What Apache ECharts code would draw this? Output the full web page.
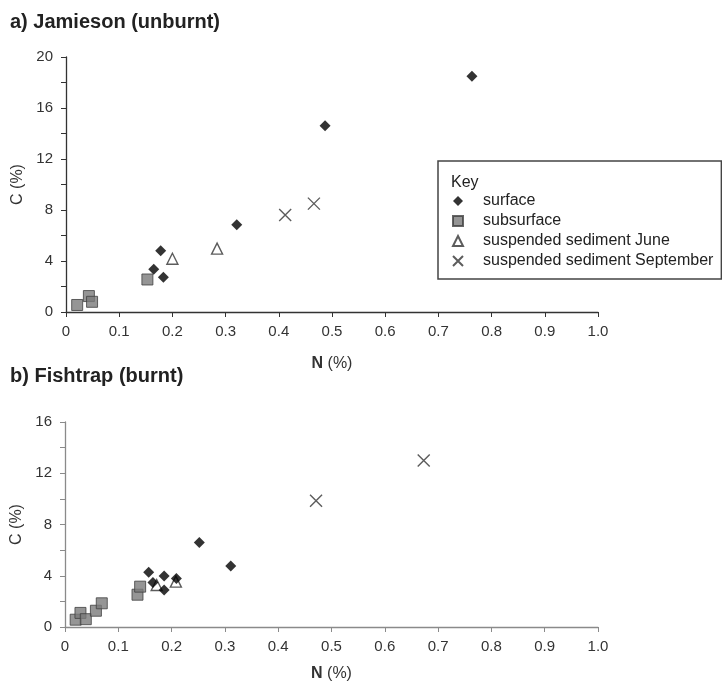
<!DOCTYPE html>
<html>
<head>
<meta charset="utf-8">
<script src="https://cdn.jsdelivr.net/npm/echarts@6/dist/echarts.min.js"></script>
<style>
  html, body { margin: 0; padding: 0; background: #fff; }
  #chart { width: 722px; height: 684px; }
</style>
</head>
<body>
<div id="chart"></div>
<script>
// a) Jamieson (unburnt)
const jamSurfaceN = [0.165, 0.178, 0.183, 0.321, 0.487, 0.763];
const jamSurfaceC = [3.35, 4.8, 2.72, 6.85, 14.6, 18.5];
const jamSubN = [0.021, 0.043, 0.049, 0.153];
const jamSubC = [0.55, 1.25, 0.8, 2.55];
const jamJuneN = [0.2, 0.284];
const jamJuneC = [4.18, 4.97];
const jamSepN = [0.412, 0.466];
const jamSepC = [7.6, 8.5];

// b) Fishtrap (burnt)
const fishSurfaceN = [0.157, 0.165, 0.186, 0.186, 0.209, 0.252, 0.311];
const fishSurfaceC = [4.27, 3.48, 3.99, 2.89, 3.78, 6.6, 4.77];
const fishSubN = [0.02, 0.029, 0.039, 0.058, 0.069, 0.136, 0.141];
const fishSubC = [0.57, 1.1, 0.61, 1.27, 1.85, 2.52, 3.15];
const fishJuneN = [0.172, 0.208];
const fishJuneC = [3.28, 3.54];
const fishSepN = [0.471, 0.673];
const fishSepC = [9.85, 13.0];

const names = ['surface', 'subsurface', 'suspended sediment June', 'suspended sediment September'];

const font = '"Liberation Sans", Arial, sans-serif';
const pairs = (xs, ys) => xs.map((x, i) => [x, ys[i]]);

const styles = {
  surface: {
    symbol: 'diamond',
    symbolSize: 11,
    itemStyle: { color: '#000' }
  },
  subsurface: {
    symbol: 'rect',
    symbolSize: 11,
    itemStyle: { color: '#7a7a7a', borderColor: '#404040', borderWidth: 1 }
  },
  june: {
    symbol: 'triangle',
    symbolSize: 11,
    itemStyle: { color: '#fff', borderColor: '#333', borderWidth: 1.4 }
  },
  sep: {
    symbol: 'path://M0,0L10,10M10,0L0,10',
    symbolSize: 12,
    itemStyle: { color: 'rgba(0,0,0,0)', borderColor: '#333', borderWidth: 1.4 }
  }
};

const xAxisBase = (grid, color, gap) => ({
  type: 'value',
  gridIndex: grid,
  min: 0,
  max: 1,
  interval: 0.1,
  name: '{b|N} (%)',
  nameLocation: 'middle',
  nameGap: gap,
  nameTextStyle: {
    fontFamily: font, fontSize: 16, color: '#333',
    rich: { b: { fontFamily: font, fontSize: 16, fontWeight: 'bold', color: '#333' } }
  },
  axisLine: { show: true, onZero: false, lineStyle: { color: color, width: 1.3 } },
  axisTick: { show: true, length: 5, lineStyle: { color: color } },
  axisLabel: {
    fontFamily: font, fontSize: 15, color: '#333', margin: 12,
    formatter: v => v === 0 ? '0' : v.toFixed(1)
  },
  splitLine: { show: false }
});

const yAxisBase = (grid, max, color) => ({
  type: 'value',
  gridIndex: grid,
  min: 0,
  max: max,
  interval: 2,
  name: 'C (%)',
  nameLocation: 'middle',
  nameGap: 34,
  nameTextStyle: { fontFamily: font, fontSize: 16, color: '#333' },
  axisLine: { show: true, onZero: false, lineStyle: { color: color, width: 1.3 } },
  axisTick: { show: true, length: 5, lineStyle: { color: color } },
  axisLabel: {
    fontFamily: font, fontSize: 15, color: '#333', margin: 13,
    formatter: v => v % 4 === 0 ? String(v) : ''
  },
  splitLine: { show: false }
});

const scatter = (name, style, grid, data) => ({
  name: name,
  type: 'scatter',
  xAxisIndex: grid,
  yAxisIndex: grid,
  symbol: style.symbol,
  symbolSize: style.symbolSize,
  itemStyle: style.itemStyle,
  data: data
});

const chart = echarts.init(document.getElementById('chart'));
const option = {
  animation: false,
  title: [
    {
      text: 'a) Jamieson (unburnt)',
      left: 10, top: 12, padding: 0,
      textStyle: { fontFamily: font, fontSize: 20, fontWeight: 'bold', color: '#222' }
    },
    {
      text: 'b) Fishtrap (burnt)',
      left: 10, top: 366, padding: 0,
      textStyle: { fontFamily: font, fontSize: 20, fontWeight: 'bold', color: '#222' }
    }
  ],
  legend: {
    data: names,
    orient: 'vertical',
    left: 438,
    top: 161,
    padding: [32, 8, 10, 14],
    itemWidth: 10,
    itemHeight: 10,
    itemGap: 4,
    borderColor: '#444',
    borderWidth: 1.5,
    textStyle: { fontFamily: font, fontSize: 16, color: '#222', padding: [0, 0, 0, 15] }
  },
  graphic: [
    {
      type: 'text',
      left: 451,
      top: 175,
      style: { text: 'Key', fontFamily: font, fontSize: 16, fill: '#222' }
    }
  ],
  grid: [
    { left: 66, right: 124, top: 57, height: 255, outerBoundsMode: 'none' },
    { left: 65, right: 124, top: 422, height: 205, outerBoundsMode: 'none' }
  ],
  xAxis: [xAxisBase(0, '#333', 44), xAxisBase(1, '#8a8a8a', 39)],
  yAxis: [yAxisBase(0, 20, '#333'), yAxisBase(1, 16, '#8a8a8a')],
  series: [
    scatter(names[2], styles.june, 0, pairs(jamJuneN, jamJuneC)),
    scatter(names[1], styles.subsurface, 0, pairs(jamSubN, jamSubC)),
    scatter(names[0], styles.surface, 0, pairs(jamSurfaceN, jamSurfaceC)),
    scatter(names[3], styles.sep, 0, pairs(jamSepN, jamSepC)),
    scatter(names[2], styles.june, 1, pairs(fishJuneN, fishJuneC)),
    scatter(names[1], styles.subsurface, 1, pairs(fishSubN, fishSubC)),
    scatter(names[0], styles.surface, 1, pairs(fishSurfaceN, fishSurfaceC)),
    scatter(names[3], styles.sep, 1, pairs(fishSepN, fishSepC))
  ]
};
chart.setOption(option);
</script>
</body>
</html>
